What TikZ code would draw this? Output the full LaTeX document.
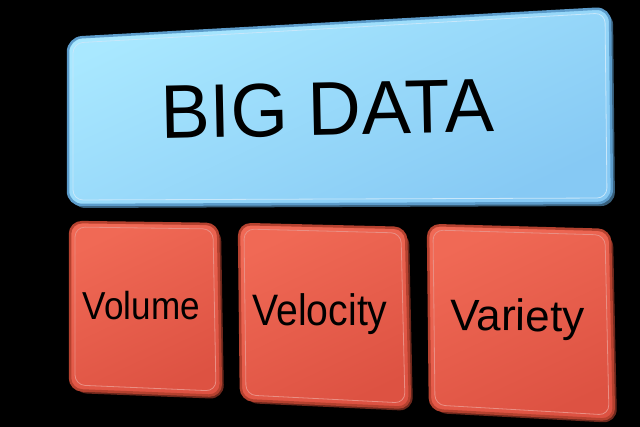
\documentclass[tikz,border=0pt]{standalone}
\usepackage{fontspec}
\setmainfont{Liberation Sans}
\setsansfont{Liberation Sans}
\usetikzlibrary{calc}

\definecolor{bluetop}{HTML}{A9E8FF}
\definecolor{bluebot}{HTML}{86C9F4}
\definecolor{blueedge}{HTML}{5C9CCB}
\definecolor{redtop}{HTML}{F06955}
\definecolor{redbot}{HTML}{DD5242}
\definecolor{rededge}{HTML}{B5412F}

\tikzset{
	bluepanel/.style={top color=bluetop, bottom color=bluebot, shading angle=25, draw=blueedge, line width=2.5pt, rounded corners=14pt},
	redpanel/.style={top color=redtop, bottom color=redbot, shading angle=25, draw=rededge, line width=2.5pt, rounded corners=12pt},
	backside/.style={rounded corners=14pt},
	rim/.style={line width=0.8pt, rounded corners=10pt},
	label/.style={inner sep=0pt, text=black, anchor=base}
}

\begin{document}
\begin{tikzpicture}[x=1pt,y=-1pt,font=\sffamily]
	\def\dx{3}
	\def\dy{3}

	\fill[black]	(0,0) rectangle (640,427);

	% big data panel
	\fill[backside, blueedge!60!black]	(68+\dx,38+\dy) -- (610+\dx,8+\dy) -- (612+\dx,203+\dy) -- (68+\dx,205+\dy) -- cycle;
	\path[bluepanel]	(68,38) -- (610,8) -- (612,203) -- (68,205) -- cycle;
	\draw[rim, white!55!bluebot]	(73,43) -- (605,13) -- (607,198) -- (73,200) -- cycle;
	\node[label, rotate=1.2, xscale=0.97] (bigdata) at (328,135) {\fontsize{76}{86}\selectfont BIG DATA};

	% three v's
	\fill[backside, rededge!60!black]	(70+\dx,222+\dy) -- (218+\dx,224+\dy) -- (221+\dx,396+\dy) -- (70+\dx,390+\dy) -- cycle;
	\path[redpanel]	(70,222) -- (218,224) -- (221,396) -- (70,390) -- cycle;
	\draw[rim, white!35!redbot]	(75,227) -- (213,229) -- (216,391) -- (75,385) -- cycle;
	\node[label, xscale=0.9] (volume) at (141.5,320) {\fontsize{39}{46}\selectfont Volume};

	\fill[backside, rededge!60!black]	(239+\dx,224+\dy) -- (406+\dx,228+\dy) -- (410+\dx,408+\dy) -- (241+\dx,400+\dy) -- cycle;
	\path[redpanel]	(239,224) -- (406,228) -- (410,408) -- (241,400) -- cycle;
	\draw[rim, white!35!redbot]	(244,229) -- (401,233) -- (405,403) -- (246,395) -- cycle;
	\node[label, xscale=0.89] (velocity) at (320,326) {\fontsize{44}{52}\selectfont Velocity};

	\fill[backside, rededge!60!black]	(428+\dx,225+\dy) -- (610+\dx,230+\dy) -- (614+\dx,420+\dy) -- (430+\dx,410+\dy) -- cycle;
	\path[redpanel]	(428,225) -- (610,230) -- (614,420) -- (430,410) -- cycle;
	\draw[rim, white!35!redbot]	(433,230) -- (605,235) -- (609,415) -- (435,405) -- cycle;
	\node[label, rotate=-0.5, xscale=1.0] (variety) at (517.5,331) {\fontsize{44}{52}\selectfont Variety};
\end{tikzpicture}
\end{document}
